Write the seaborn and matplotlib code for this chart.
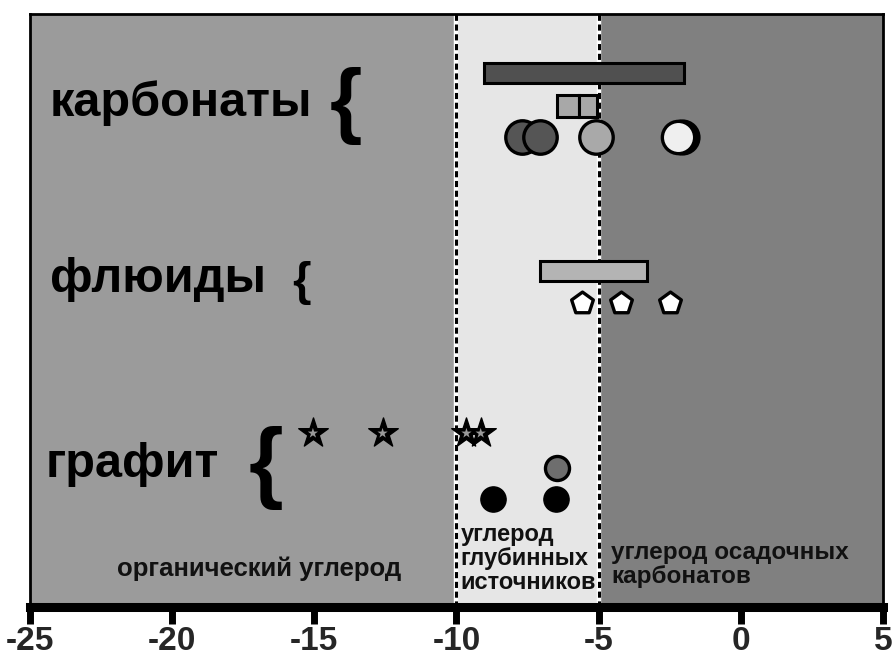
import matplotlib
matplotlib.use("Agg")
import matplotlib.pyplot as plt
import seaborn as sns
import pandas as pd

sns.set_theme(style="white")
plt.rcParams["font.family"] = ["Liberation Sans", "DejaVu Sans"]

# Carbon source zones on the δ13C axis
zone_edges = [-25, -10, -5, 5]
zone_colors = ["#9b9b9b", "#e6e6e6", "#808080"]
zone_names = ["органический углерод", "углерод\nглубинных\nисточников",
              "углерод осадочных\nкарбонатов"]

# Rows (vertical levels)
row_names = ["карбонаты", "флюиды", "графит"]

# Ranges drawn as horizontal bars: start, end, level
bar_start = [-9.05, -6.45, -5.7, -7.05]
bar_end = [-2.0, -5.7, -5.05, -3.3]
bar_level = [9.0, 8.45, 8.45, 5.67]
bar_color = ["#505050", "#a8a8a8", "#a8a8a8", "#b4b4b4"]

# Point measurements
carb_x = [-7.7, -7.05, -5.1]
carb_y = [7.92, 7.92, 7.92]
carb_fill = ["#555555", "#555555", "#a9a9a9"]
carb_white_x = [-2.2]
carb_white_y = [7.92]

fluid_x = [-5.6, -4.2, -2.5]
fluid_y = [5.13, 5.13, 5.13]

graph_star_x = [-15.05, -12.6, -9.65, -9.15]
graph_star_y = [2.93, 2.93, 2.93, 2.93]
graph_gray_x = [-6.45]
graph_gray_y = [2.35]
graph_black_x = [-8.7, -6.5]
graph_black_y = [1.82, 1.82]

fig = plt.figure(figsize=(8.95, 6.62), dpi=100)
ax = fig.add_axes([30 / 895, 1 - 607 / 662, 853 / 895, 593 / 662])
ax.set_xlim(-25, 5)
ax.set_ylim(0, 10)

for lo, hi, c in zip(zone_edges[:-1], zone_edges[1:], zone_colors):
    ax.axvspan(lo, hi, color=c, zorder=0, lw=0)
for xv in zone_edges[1:3]:
    ax.axvline(xv, color="white", lw=3.2, zorder=1)
    ax.axvline(xv, color="black", lw=2.2, ls=(0, (2.0, 1.2)), zorder=1.1)

for s, e, y, c in zip(bar_start, bar_end, bar_level, bar_color):
    h = 0.34 if y != 8.45 else 0.36
    ax.barh(y, e - s, left=s, height=h, color=c, edgecolor="black",
            linewidth=2.2, zorder=3)

carb = pd.DataFrame({"x": carb_x, "y": carb_y, "c": carb_fill})
for _, r in carb.iterrows():
    sns.scatterplot(x=[r.x], y=[r.y], ax=ax, s=580, color=r.c,
                    edgecolor="black", linewidth=2.4, zorder=4, legend=False)
sns.scatterplot(x=[v + 0.12 for v in carb_white_x], y=carb_white_y, ax=ax,
                s=560, color="black", edgecolor="black", linewidth=2.4,
                zorder=4, legend=False)
sns.scatterplot(x=carb_white_x, y=carb_white_y, ax=ax, s=540, color="#efefef",
                edgecolor="black", linewidth=2.4, zorder=4.1, legend=False)

sns.scatterplot(x=fluid_x, y=fluid_y, ax=ax, s=270, marker="p",
                color="white", edgecolor="black", linewidth=2.4, zorder=4,
                legend=False)

# Graphite stars: black star with a small grey core
sns.scatterplot(x=graph_star_x, y=graph_star_y, ax=ax, s=500, marker="*",
                color="black", edgecolor="black", linewidth=1.0, zorder=4,
                legend=False)
sns.scatterplot(x=graph_star_x, y=graph_star_y, ax=ax, s=60, marker="*",
                color="#9a9a9a", edgecolor="none", linewidth=0, zorder=4.2,
                legend=False)
sns.scatterplot(x=graph_gray_x, y=graph_gray_y, ax=ax, s=300,
                color="#6e6e6e", edgecolor="black", linewidth=2.4, zorder=4,
                legend=False)
sns.scatterplot(x=graph_black_x, y=graph_black_y, ax=ax, s=330,
                color="black", edgecolor="black", linewidth=1, zorder=4,
                legend=False)

# Row titles and braces
row_y = [8.5, 5.52, 2.4]
row_x = [-24.3, -24.3, -24.45]
brace_x = [-13.9, -15.45, -16.7]
brace_size = [60, 34, 64]
for name, ty, tx, bx, bs in zip(row_names, row_y, row_x, brace_x, brace_size):
    ax.text(tx, ty, name, fontsize=35, fontweight="bold", ha="left",
            va="center", color="black", zorder=5)
    ax.text(bx, ty - 0.05, "{", fontsize=bs, fontweight="bold", ha="center",
            va="center", color="black", zorder=5)

# Zone captions
ax.text(-16.95, 0.65, zone_names[0], fontsize=18.5, fontweight="bold",
        ha="center", va="center", color="#111111", zorder=5)
ax.text(-9.85, 0.82, zone_names[1], fontsize=17, fontweight="bold",
        ha="left", va="center", color="#111111", linespacing=1.05, zorder=5)
ax.text(-4.55, 0.72, zone_names[2], fontsize=17.5, fontweight="bold",
        ha="left", va="center", color="#111111", linespacing=1.08, zorder=5)

ax.set_xticks([-25, -20, -15, -10, -5, 0, 5])
ax.set_xticklabels(["-25", "-20", "-15", "-10", "-5", "0", "5"],
                   fontsize=24, fontweight="bold")
ax.tick_params(axis="x", direction="out", length=12, width=5, pad=2,
               color="black", bottom=True)
ax.set_yticks([])
for side in ["top", "left", "right"]:
    ax.spines[side].set_color("black")
    ax.spines[side].set_linewidth(2)
ax.spines["bottom"].set_color("black")
ax.spines["bottom"].set_linewidth(6.5)

fig.savefig("out.png", dpi=100, facecolor="white")
